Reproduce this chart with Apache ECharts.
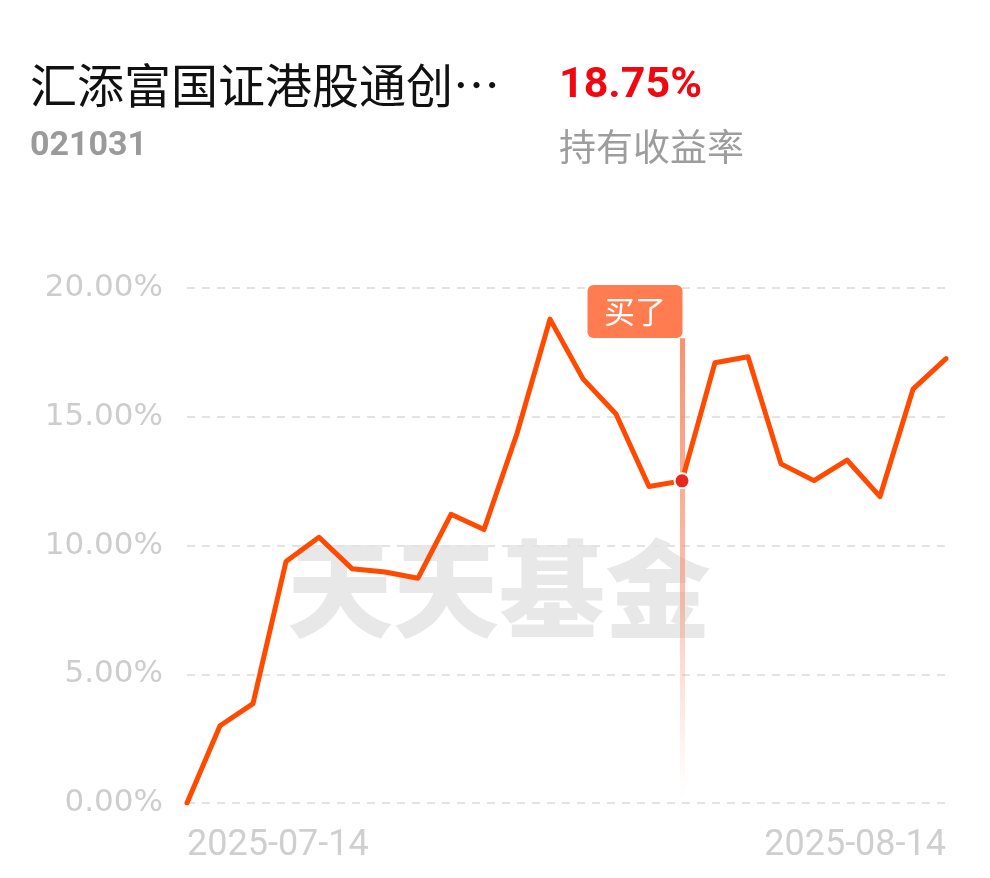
<!DOCTYPE html>
<html>
<head>
<meta charset="utf-8">
<script src="https://cdn.jsdelivr.net/npm/echarts@6/dist/echarts.min.js"></script>
<style>
html,body{margin:0;padding:0;background:#fff;}
#chart{width:990px;height:878px;}
</style>
</head>
<body>
<div id="chart"></div>
<script>
// ---- data ----
var fundName = '汇添富国证港股通创…';
var fundCode = '021031';
var holdReturn = '18.75%';
var holdLabel = '持有收益率';
var watermark = '天天基金';
var buyText = '买了';
var dates = ['2025-07-14','2025-07-15','2025-07-16','2025-07-17','2025-07-18',
             '2025-07-21','2025-07-22','2025-07-23','2025-07-24','2025-07-25',
             '2025-07-28','2025-07-29','2025-07-30','2025-07-31','2025-08-01',
             '2025-08-04','2025-08-05','2025-08-06','2025-08-07','2025-08-08',
             '2025-08-11','2025-08-12','2025-08-13','2025-08-14'];
var returns = [0.00, 3.00, 3.86, 9.38, 10.32, 9.10, 8.97, 8.73, 11.21, 10.62,
               14.35, 18.79, 16.47, 15.11, 12.29, 12.51, 17.10, 17.33, 13.17, 12.52,
               13.32, 11.90, 16.07, 17.26];
var buyDate = '2025-08-04';
var yTicks = [0, 5, 10, 15, 20];

var buyIdx = dates.indexOf(buyDate);
var chart = echarts.init(document.getElementById('chart'), null, {renderer:'canvas'});

var fadeLine = new echarts.graphic.LinearGradient(0, 0, 0, 1, [
  {offset: 0, color: 'rgba(247,125,85,0.85)'},
  {offset: 0.55, color: 'rgba(247,140,105,0.55)'},
  {offset: 0.85, color: 'rgba(250,180,160,0.22)'},
  {offset: 1, color: 'rgba(255,220,210,0.02)'}
]);

var option = {
  backgroundColor: '#ffffff',
  animation: false,
  graphic: [
    {type:'text', z: 10, style:{text: fundName, x: 30, y: 85, fill:'#111', font:'47px "Noto Sans CJK SC"', textVerticalAlign:'middle'}},
    {type:'text', z: 10, style:{text: holdReturn, x: 559, y: 86, fill:'#f0070f', font:'bold 43px Roboto', textVerticalAlign:'middle'}},
    {type:'text', z: 10, style:{text: fundCode, x: 30, y: 146, fill:'#9a9a9a', font:'bold 34px Roboto', textVerticalAlign:'middle'}},
    {type:'text', z: 10, style:{text: holdLabel, x: 559, y: 147, fill:'#9d9d9d', font:'37px "Noto Sans CJK SC"', textVerticalAlign:'middle'}},
    {type:'text', z: -1, style:{text: watermark, x: 287, y: 589, fill:'rgba(0,0,0,0.09)', font:'900 106px "Noto Sans CJK SC"', textVerticalAlign:'middle'}}
  ],
  grid: {left: 187, right: 44, top: 288, bottom: 75, containLabel: false},
  xAxis: {
    type: 'category',
    data: dates,
    boundaryGap: false,
    axisLine: {show: false},
    axisTick: {show: false},
    splitLine: {show: false},
    axisLabel: {
      interval: function (i) { return i === 0 || i === dates.length - 1; },
      showMinLabel: true,
      showMaxLabel: true,
      alignMinLabel: 'left',
      alignMaxLabel: 'right',
      color: '#cfcfcf',
      fontFamily: 'Roboto',
      fontSize: 36,
      margin: 25
    }
  },
  yAxis: {
    type: 'value',
    min: yTicks[0],
    max: yTicks[yTicks.length - 1],
    interval: 5,
    axisLine: {show: false},
    axisTick: {show: false},
    axisLabel: {
      formatter: function (v) { return v.toFixed(2) + '%'; },
      color: '#cdcdcd',
      fontFamily: 'DejaVu Sans',
      fontSize: 31,
      margin: 24
    },
    splitLine: {lineStyle: {color: '#e3e3e3', width: 2, type: [8, 7]}}
  },
  series: [{
    type: 'line',
    data: returns,
    showSymbol: false,
    symbol: 'none',
    z: 3,
    lineStyle: {color: '#ff4a00', width: 5, cap: 'round', join: 'round'},
    markLine: {
      silent: true,
      symbol: ['none', 'none'],
      label: {show: false},
      lineStyle: {type: 'solid', width: 5, color: fadeLine},
      data: [[{coord: [buyIdx, 18.05]}, {coord: [buyIdx, 0.25]}]],
      z: 2
    },
    markPoint: {
      silent: true,
      data: [
        {
          coord: [buyIdx, 19.09],
          symbol: 'circle',
          symbolSize: 1,
          itemStyle: {color: 'rgba(0,0,0,0)'},
          label: {
            show: true,
            position: 'inside',
            offset: [-47, 0],
            formatter: buyText,
            color: '#fff',
            fontSize: 31,
            fontFamily: 'Noto Sans CJK SC',
            backgroundColor: '#ff7c50',
            borderRadius: 6,
            width: 95,
            height: 53,
            lineHeight: 53,
            align: 'center',
            verticalAlign: 'middle',
            padding: 0
          }
        },
        {
          coord: [buyIdx, returns[buyIdx]],
          symbol: 'circle',
          symbolSize: 15,
          itemStyle: {color: '#e8281c', borderColor: '#ffffff', borderWidth: 2},
          label: {show: false}
        }
      ]
    }
  }]
};
chart.setOption(option);
</script>
</body>
</html>
